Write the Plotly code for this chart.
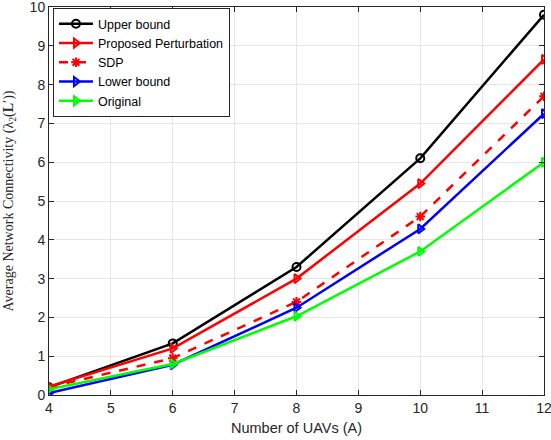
import plotly.graph_objects as go

x_uavs = [4, 6, 8, 10, 12]
upper_bound = [0.20, 1.33, 3.30, 6.10, 9.80]
proposed = [0.22, 1.20, 3.00, 5.45, 8.65]
sdp = [0.20, 0.95, 2.40, 4.60, 7.70]
lower_bound = [0.05, 0.78, 2.25, 4.28, 7.25]
original = [0.15, 0.80, 2.03, 3.70, 6.00]

series = [
    ("Upper bound", upper_bound, "black", "solid", "circle-open"),
    ("Proposed Perturbation", proposed, "#ff0000", "solid", "triangle-right-open"),
    ("SDP", sdp, "#ff0000", "dash", "asterisk-open"),
    ("Lower bound", lower_bound, "#0000ff", "solid", "triangle-right-open"),
    ("Original", original, "#00ff00", "solid", "triangle-right-open"),
]

fig = go.Figure()
for name, ys, color, dash, sym in series:
    fig.add_trace(go.Scatter(
        x=x_uavs, y=ys, name=name, mode="lines+markers",
        line=dict(color=color, width=2.5, dash=dash),
        marker=dict(symbol=sym, size=8, color=color, line=dict(color=color, width=2)),
    ))

axis_common = dict(
    showgrid=True, gridcolor="#e6e6e6", gridwidth=1,
    showline=True, linecolor="#262626", linewidth=1, mirror="ticks",
    ticks="inside", ticklen=5, tickcolor="#262626",
    tickfont=dict(family="Liberation Sans, Arial", size=14, color="#262626"),
    ticklabeloverflow="allow",
    zeroline=False,
)

fig.update_layout(
    width=551, height=440,
    margin=dict(l=49, r=7, t=7, b=45, autoexpand=False),
    paper_bgcolor="white", plot_bgcolor="white",
    showlegend=True,
    legend=dict(
        x=0.008, y=0.997, xanchor="left", yanchor="top",
        bgcolor="white", bordercolor="#262626", borderwidth=1,
        font=dict(family="Liberation Sans, Arial", size=12.5, color="black"),
        tracegroupgap=0, itemwidth=34,
    ),
    xaxis=dict(range=[4, 12], dtick=1,
               title=dict(text="Number of UAVs (A)", standoff=8,
                          font=dict(family="Liberation Sans, Arial", size=14.5, color="#262626")),
               **axis_common),
    yaxis=dict(range=[0, 10], dtick=1,
               title=dict(text="Average Network Connectivity (λ<sub>2</sub>(<b>L</b>′))", standoff=12,
                          font=dict(family="Liberation Serif, Times New Roman", size=14, color="#262626")),
               **axis_common),
)

fig.write_html("out.html", config={"displayModeBar": False},
               post_script="document.body.style.margin='0px';")
